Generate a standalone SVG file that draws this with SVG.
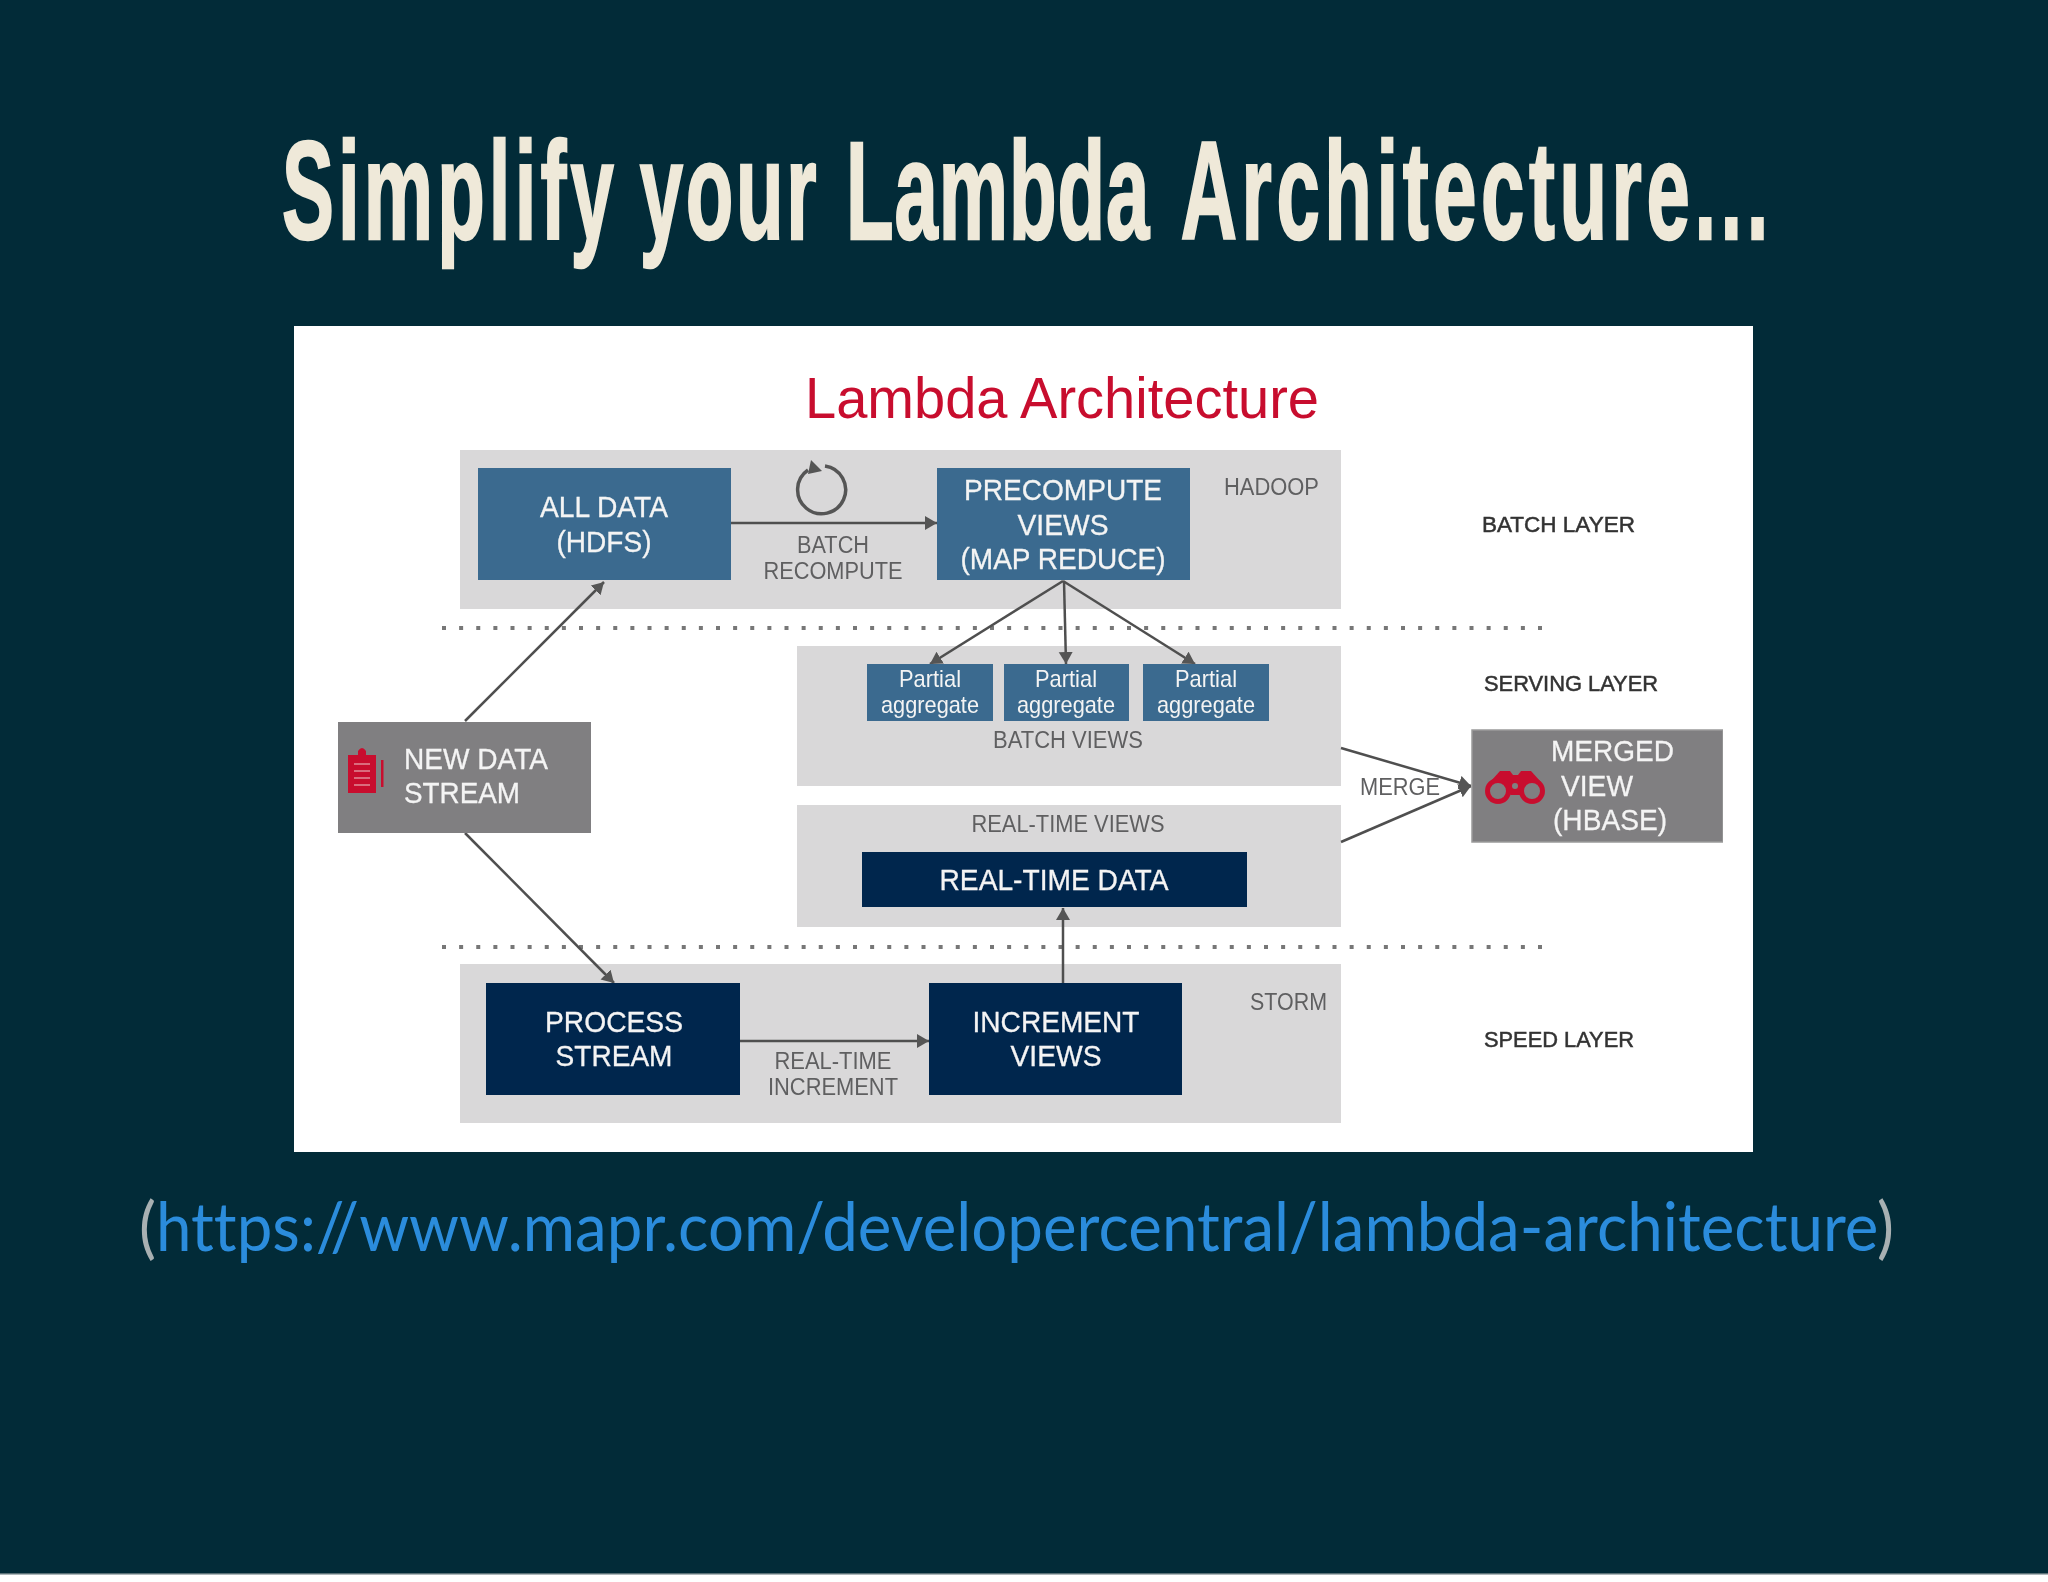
<svg xmlns="http://www.w3.org/2000/svg" width="2048" height="1582" viewBox="0 0 2048 1582">
<defs>
<marker id="ah" markerUnits="userSpaceOnUse" markerWidth="16" markerHeight="16" refX="12" refY="7" orient="auto"><path d="M0 0L12 7L0 14z" fill="#555"/></marker>
<filter id="soft" x="0" y="0" width="1" height="1"><feGaussianBlur stdDeviation="0.5"/></filter>
</defs>
<style>
text{font-family:"Liberation Sans",Arial,sans-serif}
.c{text-anchor:middle}
.w{fill:#f4f4f4;font-size:30px;stroke:#f4f4f4;stroke-width:.3px}
.g{fill:#5f5f61;font-size:23px}
.k{fill:#333;font-size:22px;stroke:#333;stroke-width:.5px}
.s{fill:#f4f4f4;font-size:24px}
.panel{fill:#d9d8d9}
.blue{fill:#3a6b8f}
.navy{fill:#02254d}
.grey{fill:#807f81}
.conn{stroke:#4f4f4f;stroke-width:2.5;fill:none;marker-end:url(#ah)}
.dots{stroke:#777;stroke-width:4;stroke-dasharray:4 13.125;fill:none}
.red{fill:#c8102e}
</style>
<rect id="bg" width="2048" height="1582" fill="#022b38"/>
<rect id="bottom-strip" y="1573" width="2048" height="9" fill="#fff"/>
<rect y="1573" width="2048" height="1.500" fill="#5b7177"/>
<text id="title" transform="translate(282 239) scale(.56 1)" font-size="139" font-weight="700" fill="#efe9d9" stroke="#efe9d9" stroke-width="2.500" style="font-family:'Liberation Sans Narrow','Liberation Sans',sans-serif"><tspan letter-spacing="7.4">Simplify </tspan><tspan x="639" letter-spacing="4.8">your </tspan><tspan x="1007" letter-spacing="1.8">Lambda </tspan><tspan x="1605" letter-spacing="8.2">Architecture...</tspan></text>
<rect id="slide-image" x="294" y="326" width="1459" height="826" fill="#fff"/>
<g filter="url(#soft)">
<text id="diagram-title" x="805" y="418" font-size="57" fill="#c8102e" textLength="514" lengthAdjust="spacingAndGlyphs">Lambda Architecture</text>
<g id="panels">
<rect class="panel" x="460" y="450" width="881" height="159"/>
<rect class="panel" x="797" y="646" width="544" height="140"/>
<rect class="panel" x="797" y="805" width="544" height="122"/>
<rect class="panel" x="460" y="964" width="881" height="159"/>
</g>
<path class="dots" d="M442 628H1544M442 947H1544"/>
<g id="connectors">
<path class="conn" d="M465 721L604 582"/>
<path class="conn" d="M465 833L614 983"/>
<path class="conn" d="M731 523H937"/>
<path class="conn" d="M1063 581L930 664"/>
<path class="conn" d="M1064 581L1066 664"/>
<path class="conn" d="M1063 581L1195 664"/>
<path class="conn" d="M1341 748L1471 786"/>
<path class="conn" d="M1341 842L1471 786"/>
<path class="conn" d="M740 1041H929"/>
<path class="conn" d="M1063 983V908"/>
<path d="M808 470A24 24 0 1 0 825 466" fill="none" stroke="#555" stroke-width="3.500"/>
<path d="M811 460L808 474L822 471z" fill="#555"/>
</g>
<g id="all-data"><rect class="blue" x="478" y="468" width="253" height="112"/><text class="w c" x="604" y="517" textLength="128" lengthAdjust="spacingAndGlyphs">ALL DATA</text><text class="w c" x="604" y="552" textLength="95" lengthAdjust="spacingAndGlyphs">(HDFS)</text></g>
<g id="precompute"><rect class="blue" x="937" y="468" width="253" height="112"/><text class="w c" x="1063" y="500" textLength="198" lengthAdjust="spacingAndGlyphs">PRECOMPUTE</text><text class="w c" x="1063" y="535" textLength="91" lengthAdjust="spacingAndGlyphs">VIEWS</text><text class="w c" x="1063" y="569" textLength="205" lengthAdjust="spacingAndGlyphs">(MAP REDUCE)</text></g>
<g id="partial-1"><rect class="blue" x="867" y="664" width="126" height="57"/><text class="s c" x="930" y="687" textLength="62" lengthAdjust="spacingAndGlyphs">Partial</text><text class="s c" x="930" y="713" textLength="98" lengthAdjust="spacingAndGlyphs">aggregate</text></g>
<g id="partial-2"><rect class="blue" x="1004" y="664" width="125" height="57"/><text class="s c" x="1066" y="687" textLength="62" lengthAdjust="spacingAndGlyphs">Partial</text><text class="s c" x="1066" y="713" textLength="98" lengthAdjust="spacingAndGlyphs">aggregate</text></g>
<g id="partial-3"><rect class="blue" x="1143" y="664" width="126" height="57"/><text class="s c" x="1206" y="687" textLength="62" lengthAdjust="spacingAndGlyphs">Partial</text><text class="s c" x="1206" y="713" textLength="98" lengthAdjust="spacingAndGlyphs">aggregate</text></g>
<g id="new-data"><rect class="grey" x="338" y="722" width="253" height="111"/>
<path class="red" d="M348 755H358V751Q362 745 366 751V755H376V793H348z"/><rect class="red" x="381" y="760" width="2.500" height="27"/>
<path d="M354 764H370M354 771H370M354 778H370M354 785H370" stroke="#e08a98" stroke-width="1.500"/>
<text class="w" x="404" y="769" textLength="144" lengthAdjust="spacingAndGlyphs">NEW DATA</text><text class="w" x="404" y="803" textLength="116" lengthAdjust="spacingAndGlyphs">STREAM</text></g>
<g id="merged"><rect class="grey" x="1472" y="730" width="251" height="112" stroke="#9a9a9a" stroke-width="1.500"/>
<path class="red" d="M1490 782L1500 771H1510L1513 775H1518L1521 771H1531L1541 782L1520 795H1511z"/>
<circle cx="1498" cy="791" r="10.500" fill="#807f81" stroke="#c8102e" stroke-width="5"/><circle cx="1532" cy="791" r="10.500" fill="#807f81" stroke="#c8102e" stroke-width="5"/><circle cx="1515" cy="786" r="3" fill="#807f81"/>
<text class="w" x="1551" y="761" textLength="123" lengthAdjust="spacingAndGlyphs">MERGED</text><text class="w" x="1561" y="796" textLength="72" lengthAdjust="spacingAndGlyphs">VIEW</text><text class="w" x="1553" y="830" textLength="114" lengthAdjust="spacingAndGlyphs">(HBASE)</text></g>
<g id="real-time-data"><rect class="navy" x="862" y="852" width="385" height="55"/><text class="w c" x="1054" y="890" textLength="229" lengthAdjust="spacingAndGlyphs">REAL-TIME DATA</text></g>
<g id="process-stream"><rect class="navy" x="486" y="983" width="254" height="112"/><text class="w c" x="614" y="1032" textLength="138" lengthAdjust="spacingAndGlyphs">PROCESS</text><text class="w c" x="614" y="1066" textLength="117" lengthAdjust="spacingAndGlyphs">STREAM</text></g>
<g id="increment-views"><rect class="navy" x="929" y="983" width="253" height="112"/><text class="w c" x="1056" y="1032" textLength="167" lengthAdjust="spacingAndGlyphs">INCREMENT</text><text class="w c" x="1056" y="1066" textLength="91" lengthAdjust="spacingAndGlyphs">VIEWS</text></g>
<g id="labels">
<text class="g c" x="833" y="553" textLength="72" lengthAdjust="spacingAndGlyphs">BATCH</text><text class="g c" x="833" y="579" textLength="139" lengthAdjust="spacingAndGlyphs">RECOMPUTE</text>
<text class="g" x="1224" y="495" textLength="95" lengthAdjust="spacingAndGlyphs">HADOOP</text>
<text class="g c" x="1068" y="748" textLength="150" lengthAdjust="spacingAndGlyphs">BATCH VIEWS</text>
<text class="g c" x="1068" y="832" textLength="193" lengthAdjust="spacingAndGlyphs">REAL-TIME VIEWS</text>
<text class="g" x="1360" y="795" textLength="80" lengthAdjust="spacingAndGlyphs">MERGE</text>
<text class="g" x="1250" y="1010" textLength="77" lengthAdjust="spacingAndGlyphs">STORM</text>
<text class="g c" x="833" y="1069" textLength="117" lengthAdjust="spacingAndGlyphs">REAL-TIME</text><text class="g c" x="833" y="1095" textLength="130" lengthAdjust="spacingAndGlyphs">INCREMENT</text>
<text class="k" x="1482" y="532" textLength="153" lengthAdjust="spacingAndGlyphs">BATCH LAYER</text>
<text class="k" x="1484" y="691" textLength="174" lengthAdjust="spacingAndGlyphs">SERVING LAYER</text>
<text class="k" x="1484" y="1047" textLength="150" lengthAdjust="spacingAndGlyphs">SPEED LAYER</text>
</g>
</g>
<text id="source" x="139" y="1251" font-size="68" style="font-family:Lato,sans-serif;font-variant-ligatures:none" fill="#a8b0b2" textLength="1755" lengthAdjust="spacingAndGlyphs">(<tspan fill="#2b8cdc">https://www.mapr.com/developercentral/lambda-architecture</tspan>)</text>
</svg>
